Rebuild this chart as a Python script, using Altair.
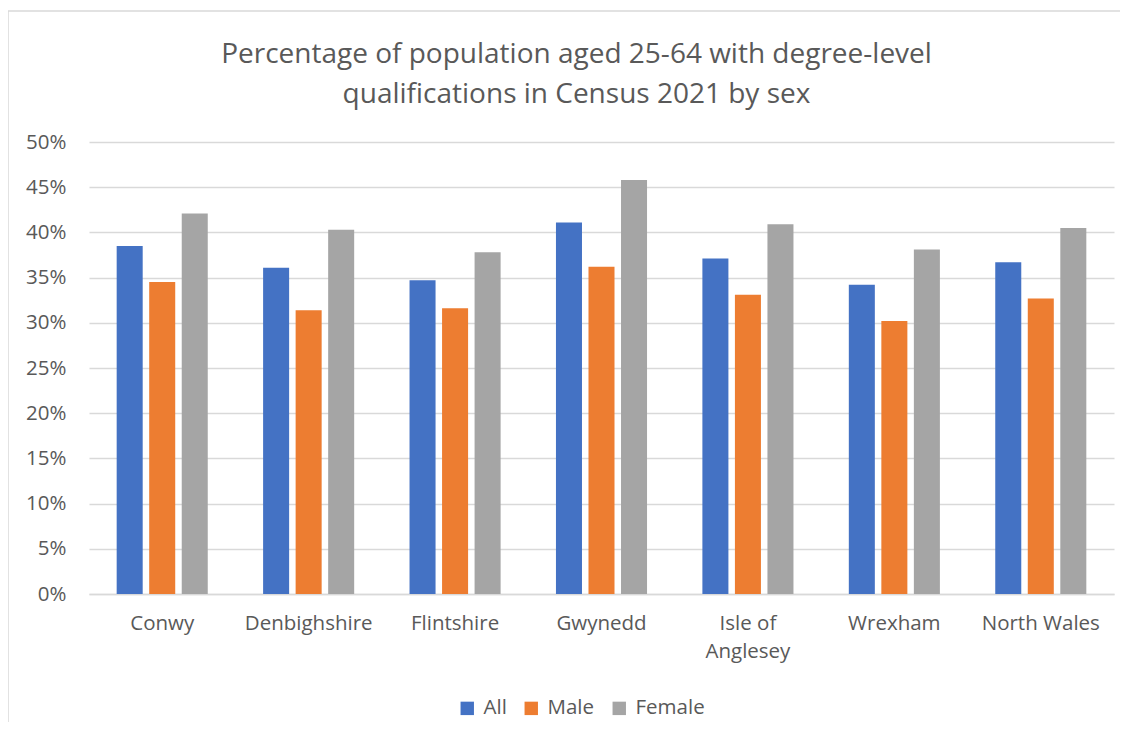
import altair as alt
import pandas as pd

areas = ["Conwy", "Denbighshire", "Flintshire", "Gwynedd", "Isle of Anglesey", "Wrexham", "North Wales"]
series = ["All", "Male", "Female"]
all_vals = [0.385, 0.361, 0.347, 0.411, 0.371, 0.342, 0.367]
male_vals = [0.345, 0.314, 0.316, 0.362, 0.331, 0.302, 0.327]
female_vals = [0.421, 0.403, 0.378, 0.458, 0.409, 0.381, 0.405]
colors = ["#4472C4", "#ED7D31", "#A5A5A5"]
y_ticks = [0, 0.05, 0.10, 0.15, 0.20, 0.25, 0.30, 0.35, 0.40, 0.45, 0.50]

rows = []
for i, a in enumerate(areas):
    for s, vals in zip(series, [all_vals, male_vals, female_vals]):
        rows.append({"area": a, "sex": s, "value": vals[i]})
df = pd.DataFrame(rows)

FONT = "Open Sans"
TXT = "#595959"
one = pd.DataFrame({"k": [0]})

top_border = alt.Chart(one).mark_rule(color="#D9D9D9", strokeWidth=1.5).encode(
    x=alt.value(-81), x2=alt.value(1040), y=alt.value(-131)
)
left_border = alt.Chart(one).mark_rule(color="#D9D9D9", strokeWidth=1.5).encode(
    x=alt.value(-81), y=alt.value(-131), y2=alt.value(600)
)

bars = alt.Chart(df).mark_bar().encode(
    x=alt.X("area:N", sort=areas,
            scale=alt.Scale(paddingInner=0.378, paddingOuter=0.189),
            axis=alt.Axis(title=None, labelAngle=0, ticks=False, domain=True,
                          domainColor="#D9D9D9", domainWidth=1.5,
                          labelPadding=19, labelFontSize=20.5, labelColor=TXT,
                          labelFont=FONT, labelLineHeight=28,
                          labelExpr="datum.label == 'Isle of Anglesey' ? ['Isle of', 'Anglesey'] : datum.label")),
    xOffset=alt.XOffset("sex:N", sort=series, scale=alt.Scale(paddingInner=0.2)),
    y=alt.Y("value:Q", scale=alt.Scale(domain=[0, 0.5]),
            axis=alt.Axis(title=None, values=y_ticks, format=".0%", ticks=False,
                          domain=False, gridColor="#D9D9D9", gridWidth=1.5,
                          labelPadding=23, labelFontSize=20.5, labelColor=TXT,
                          labelFont=FONT)),
    color=alt.Color("sex:N", sort=series,
                    scale=alt.Scale(domain=series, range=colors),
                    legend=alt.Legend(title=None, orient="none", direction="horizontal",
                                      legendX=368, legendY=556, symbolType="square",
                                      symbolSize=180, symbolStrokeWidth=0,
                                      labelFontSize=20.5, labelColor=TXT, labelFont=FONT,
                                      columnPadding=14, labelOffset=6)),
)

chart = alt.layer(top_border, left_border, bars).properties(
    width=1025,
    height=452,
    title=alt.TitleParams(
        ["Percentage of population aged 25-64 with degree-level",
         "qualifications in Census 2021 by sex"],
        fontSize=28, font=FONT, fontWeight="normal", color=TXT,
        lineHeight=40, anchor="middle", dx=-25, offset=-99,
    ),
    autosize=alt.AutoSizeParams(type="none"),
    padding={"left": 81, "top": 134, "right": 6, "bottom": 128},
).configure_view(stroke=None)

chart.save("out.html", embed_options={"renderer": "svg", "actions": False})
